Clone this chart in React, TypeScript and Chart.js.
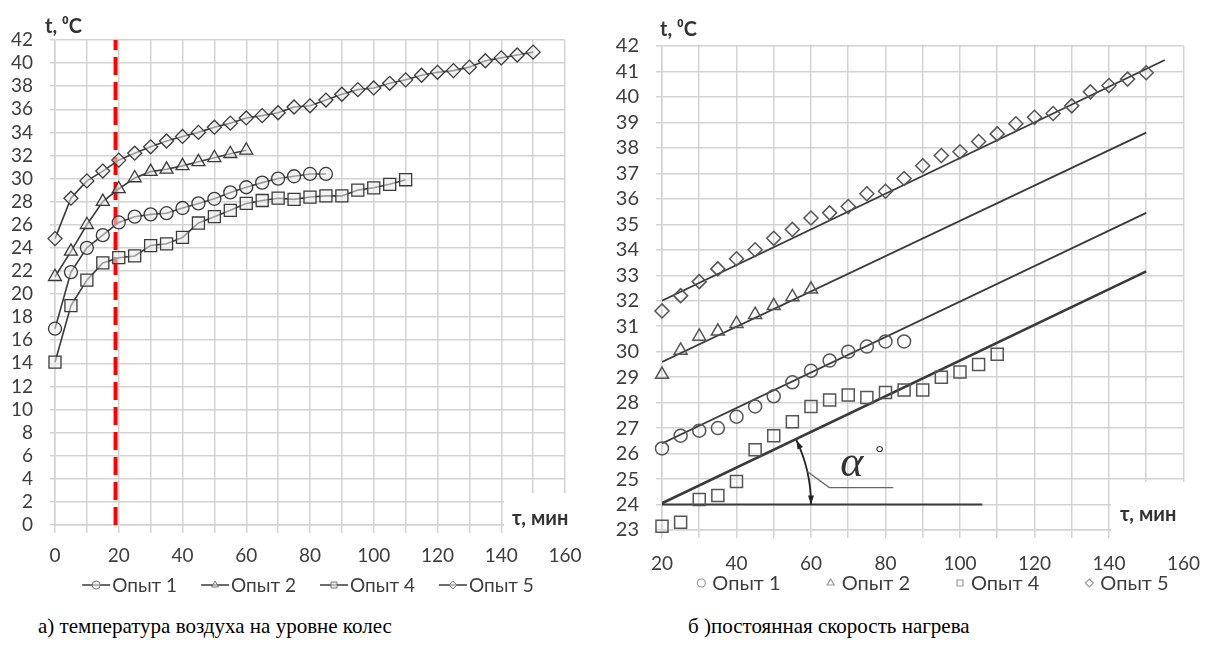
import React, { useEffect, useRef } from "react";
import { Chart, registerables } from "chart.js";

Chart.register(...registerables);

// Sampling times, min
const time = [0, 5, 10, 15, 20, 25, 30, 35, 40, 45, 50, 55, 60, 65, 70, 75, 80, 85, 90, 95, 100, 105, 110, 115, 120, 125, 130, 135, 140, 145, 150];

// Air temperature at wheel level, °C (one value per sampling time)
const opyt1 = [17.0, 21.9, 24.0, 25.1, 26.2, 26.7, 26.9, 27.0, 27.45, 27.85, 28.25, 28.8, 29.25, 29.65, 30.0, 30.2, 30.4, 30.4];
const opyt2 = [21.5, 23.7, 26.0, 28.0, 29.1, 30.05, 30.6, 30.8, 31.1, 31.45, 31.8, 32.15, 32.45];
const opyt4 = [14.1, 19.0, 21.2, 22.7, 23.15, 23.3, 24.2, 24.35, 24.9, 26.15, 26.7, 27.25, 27.85, 28.1, 28.3, 28.2, 28.4, 28.5, 28.5, 29.0, 29.2, 29.5, 29.9];
const opyt5 = [24.8, 28.3, 29.8, 30.65, 31.6, 32.2, 32.75, 33.25, 33.65, 34.0, 34.45, 34.8, 35.25, 35.45, 35.7, 36.2, 36.3, 36.8, 37.3, 37.7, 37.85, 38.25, 38.55, 38.95, 39.2, 39.35, 39.65, 40.2, 40.45, 40.7, 40.95];

const seriesNames = ["Опыт 1", "Опыт 2", "Опыт 4", "Опыт 5"];

// Start of the constant-rate heating period, min
const markTime = 19;
const markRange = [0, 42];

// Linear approximations of the constant-rate period
const trendFromTime = [20, 20, 20, 20];
const trendToTime = [155, 150, 150, 150];
const trendFromTemp = [32.0, 29.6, 26.4, 24.05];
const trendToTemp = [41.45, 38.6, 35.45, 33.15];

// Horizontal reference for the slope angle
const baseFromTime = 20;
const baseToTime = 106;
const baseTemp = 24;
const arcTime = 60;

// Axis ticks
const leftYTicks = { min: 0, max: 42, step: 2 };
const leftXTicks = { min: 0, max: 160, step: 10, label: 20 };
const rightYTicks = { min: 23, max: 42, step: 1 };
const rightXTicks = { min: 20, max: 160, step: 10, label: 20 };

// ---- styling ----
const FONT = '"Lato", "Open Sans", sans-serif';
const TEXT = "#3d3d3d";
const GRID = "#d3d3d3";
const LINE = "#3a3a3a";
const MARK = "#555555";
const markerStyles = ["circle", "triangle", "rect", "rectRot"];
const markerRadii = [6.5, 7.5, 8.5, 7];

const pts = (vals: number[]) => vals.map((v, i) => ({ x: time[i], y: v }));
const ptsFrom = (vals: number[], t0: number) => pts(vals).filter((p) => p.x >= t0);

function drawMarker(ctx: CanvasRenderingContext2D, style: string, x: number, y: number, r: number) {
  ctx.beginPath();
  if (style === "circle") ctx.arc(x, y, r, 0, Math.PI * 2);
  else if (style === "triangle") {
    ctx.moveTo(x, y - r);
    ctx.lineTo(x + r * 0.866, y + r * 0.5);
    ctx.lineTo(x - r * 0.866, y + r * 0.5);
    ctx.closePath();
  } else if (style === "rect") ctx.rect(x - r * 0.75, y - r * 0.75, r * 1.5, r * 1.5);
  else {
    ctx.moveTo(x, y - r);
    ctx.lineTo(x + r, y);
    ctx.lineTo(x, y + r);
    ctx.lineTo(x - r, y);
    ctx.closePath();
  }
  ctx.fill();
  ctx.stroke();
}

function axisTitles(yTitle: [number, number], xTitle: [number, number], box: [number, number, number, number]) {
  return {
    id: "axisTitles",
    afterDraw(chart: any) {
      const ctx: CanvasRenderingContext2D = chart.ctx;
      ctx.save();
      ctx.fillStyle = "#fff";
      ctx.fillRect(box[0], box[1], box[2], box[3]);
      ctx.fillStyle = "#333";
      ctx.font = `bold 20px ${FONT}`;
      ctx.textAlign = "left";
      ctx.textBaseline = "middle";
      ctx.fillText("t, ⁰C", yTitle[0], yTitle[1]);
      ctx.fillText("τ, мин", xTitle[0], xTitle[1]);
      ctx.restore();
    },
  };
}

function legendPlugin(centerX: number, y: number, withLine: boolean, gap: number, fontSize: number) {
  return {
    id: "customLegend",
    afterDraw(chart: any) {
      const ctx: CanvasRenderingContext2D = chart.ctx;
      ctx.save();
      ctx.font = `${fontSize}px ${FONT}`;
      const symW = withLine ? 28 : 10;
      const pad = withLine ? 2 : 5;
      const widths = seriesNames.map((n) => symW + pad + ctx.measureText(n).width);
      const total = widths.reduce((a, b) => a + b, 0) + gap * (seriesNames.length - 1);
      let x = centerX - total / 2;
      seriesNames.forEach((name, i) => {
        if (withLine) {
          ctx.strokeStyle = LINE;
          ctx.lineWidth = 1.5;
          ctx.beginPath();
          ctx.moveTo(x, y);
          ctx.lineTo(x + symW, y);
          ctx.stroke();
          ctx.fillStyle = "rgba(235,235,235,0.6)";
          ctx.strokeStyle = "#777";
          ctx.lineWidth = 1;
          drawMarker(ctx, markerStyles[i], x + symW / 2, y, 4);
        } else {
          ctx.fillStyle = "rgba(255,255,255,0)";
          ctx.strokeStyle = "#999";
          ctx.lineWidth = 1.2;
          drawMarker(ctx, markerStyles[i], x + 4, y, 4);
        }
        ctx.fillStyle = TEXT;
        ctx.textAlign = "left";
        ctx.textBaseline = "middle";
        ctx.fillText(name, x + symW + pad, y + 1);
        x += widths[i] + gap;
      });
      ctx.restore();
    },
  };
}

const angleArc = {
  id: "angleArc",
  afterDatasetsDraw(chart: any) {
    const ctx: CanvasRenderingContext2D = chart.ctx;
    const xs = chart.scales.x;
    const ys = chart.scales.y;
    const cx = xs.getPixelForValue(baseFromTime);
    const cy = ys.getPixelForValue(baseTemp);
    const r = xs.getPixelForValue(arcTime) - cx;
    const k = 3;
    const ang = Math.atan2(
      ys.getPixelForValue(trendToTemp[k]) - ys.getPixelForValue(trendFromTemp[k]),
      xs.getPixelForValue(trendToTime[k]) - xs.getPixelForValue(trendFromTime[k])
    );
    ctx.save();
    ctx.strokeStyle = "#222";
    ctx.fillStyle = "#222";
    ctx.lineWidth = 1.8;
    ctx.beginPath();
    ctx.arc(cx, cy, r, ang, 0);
    ctx.stroke();
    const head = (theta: number, dir: number) => {
      const px = cx + r * Math.cos(theta);
      const py = cy + r * Math.sin(theta);
      const tx = -Math.sin(theta) * dir;
      const ty = Math.cos(theta) * dir;
      const len = 9;
      const half = 3;
      const nx = -ty;
      const ny = tx;
      ctx.beginPath();
      ctx.moveTo(px, py);
      ctx.lineTo(px - tx * len + nx * half, py - ty * len + ny * half);
      ctx.lineTo(px - tx * len - nx * half, py - ty * len - ny * half);
      ctx.closePath();
      ctx.fill();
    };
    head(ang, -1);
    head(0, 1);
    const mid = ang / 2;
    const mx = cx + r * Math.cos(mid);
    const my = cy + r * Math.sin(mid);
    ctx.strokeStyle = "#666";
    ctx.lineWidth = 1.2;
    ctx.beginPath();
    ctx.moveTo(mx, my);
    ctx.lineTo(mx + 22, my + 16);
    ctx.lineTo(mx + 86, my + 16);
    ctx.stroke();
    ctx.fillStyle = "#333";
    ctx.textAlign = "left";
    ctx.textBaseline = "alphabetic";
    ctx.font = 'italic 44px "Liberation Serif", serif';
    ctx.fillText("α", mx + 33, my + 4);
    ctx.font = '22px "Liberation Serif", serif';
    ctx.fillText("°", mx + 68, my - 12);
    ctx.restore();
  },
};

function scaleOpts(t: { min: number; max: number; step: number; label?: number }, fontSize: number, tick: number, padding: number, fit: (s: any) => void) {
  return {
    type: "linear",
    min: t.min,
    max: t.max,
    afterFit: fit,
    ticks: {
      stepSize: t.step,
      autoSkip: false,
      maxRotation: 0,
      color: TEXT,
      padding,
      font: { size: fontSize, family: FONT },
      callback: (v: number) => (t.label && (v - t.min) % t.label !== 0 ? "" : String(v)),
    },
    grid: { color: GRID, lineWidth: 1.5, tickLength: tick },
    border: { color: GRID, width: 1.5 },
  };
}

function leftConfig(): any {
  const series = [opyt1, opyt2, opyt4, opyt5];
  return {
    type: "scatter",
    data: {
      datasets: [
        ...series.map((vals, i) => ({
          label: seriesNames[i],
          data: pts(vals),
          showLine: true,
          clip: false,
          borderColor: LINE,
          borderWidth: 1.6,
          pointStyle: markerStyles[i],
          pointRadius: markerRadii[i],
          pointBorderColor: LINE,
          pointBorderWidth: 1.3,
          pointBackgroundColor: "rgba(235,235,235,0.55)",
        })),
        {
          label: "mark",
          data: markRange.map((v) => ({ x: markTime, y: v })),
          showLine: true,
          borderColor: "#ff0000",
          borderWidth: 4,
          borderDash: [18, 7],
          pointRadius: 0,
        },
      ],
    },
    options: {
      animation: false,
      responsive: false,
      maintainAspectRatio: false,
      events: [],
      layout: { padding: { left: 0, top: 40, right: 35, bottom: 0 } },
      plugins: { legend: { display: false }, tooltip: { enabled: false } },
      scales: {
        x: scaleOpts(leftXTicks, 19, 8, 11, (s: any) => { s.height = 75; }),
        y: scaleOpts(leftYTicks, 19, 5, 17, (s: any) => { s.width = 55; }),
      },
    },
    plugins: [axisTitles([45, 27], [512, 519], [504, 493, 96, 47]), legendPlugin(308, 585, true, 24, 19)],
  };
}

function rightConfig(): any {
  const series = [opyt1, opyt2, opyt4, opyt5];
  return {
    type: "scatter",
    data: {
      datasets: [
        ...series.map((vals, i) => ({
          label: seriesNames[i],
          data: ptsFrom(vals, 20),
          showLine: false,
          clip: false,
          pointStyle: markerStyles[i],
          pointRadius: markerRadii[i],
          pointBorderColor: MARK,
          pointBorderWidth: 1.5,
          pointBackgroundColor: "rgba(255,255,255,0)",
        })),
        ...trendFromTime.map((t0, k) => ({
          label: "trend" + k,
          data: [
            { x: t0, y: trendFromTemp[k] },
            { x: trendToTime[k], y: trendToTemp[k] },
          ],
          showLine: true,
          borderColor: LINE,
          borderWidth: k === 3 ? 2.6 : 1.8,
          pointRadius: 0,
        })),
        {
          label: "base",
          data: [
            { x: baseFromTime, y: baseTemp },
            { x: baseToTime, y: baseTemp },
          ],
          showLine: true,
          borderColor: LINE,
          borderWidth: 2,
          pointRadius: 0,
        },
      ],
    },
    options: {
      animation: false,
      responsive: false,
      maintainAspectRatio: false,
      events: [],
      layout: { padding: { left: 0, top: 46, right: 29, bottom: 0 } },
      plugins: { legend: { display: false }, tooltip: { enabled: false } },
      scales: {
        x: scaleOpts(rightXTicks, 19, 8, 14, (s: any) => { s.height = 70; }),
        y: scaleOpts(rightYTicks, 20, 6, 17, (s: any) => { s.width = 62; }),
      },
    },
    plugins: [axisTitles([60, 30], [520, 515], [511, 482, 103, 58]), legendPlugin(333, 583, false, 46, 20), angleArc],
  };
}

export default function App() {
  const leftRef = useRef<HTMLCanvasElement>(null);
  const rightRef = useRef<HTMLCanvasElement>(null);

  useEffect(() => {
    const left = new Chart(leftRef.current as HTMLCanvasElement, leftConfig());
    const right = new Chart(rightRef.current as HTMLCanvasElement, rightConfig());
    return () => {
      left.destroy();
      right.destroy();
    };
  }, []);

  const caption: React.CSSProperties = {
    position: "absolute",
    top: 614,
    font: '21px "Liberation Serif", "Times New Roman", serif',
    color: "#000",
    whiteSpace: "nowrap",
  };

  return (
    <div style={{ position: "absolute", left: 0, top: 0, width: 1214, height: 657, background: "#fff", overflow: "hidden" }}>
      <canvas ref={leftRef} width={600} height={600} style={{ position: "absolute", left: 0, top: 0, width: 600, height: 600 }} />
      <canvas ref={rightRef} width={614} height={600} style={{ position: "absolute", left: 600, top: 0, width: 614, height: 600 }} />
      <div style={{ ...caption, left: 38 }}>а) температура воздуха на уровне колес</div>
      <div style={{ ...caption, left: 688 }}>б )постоянная скорость нагрева</div>
    </div>
  );
}
